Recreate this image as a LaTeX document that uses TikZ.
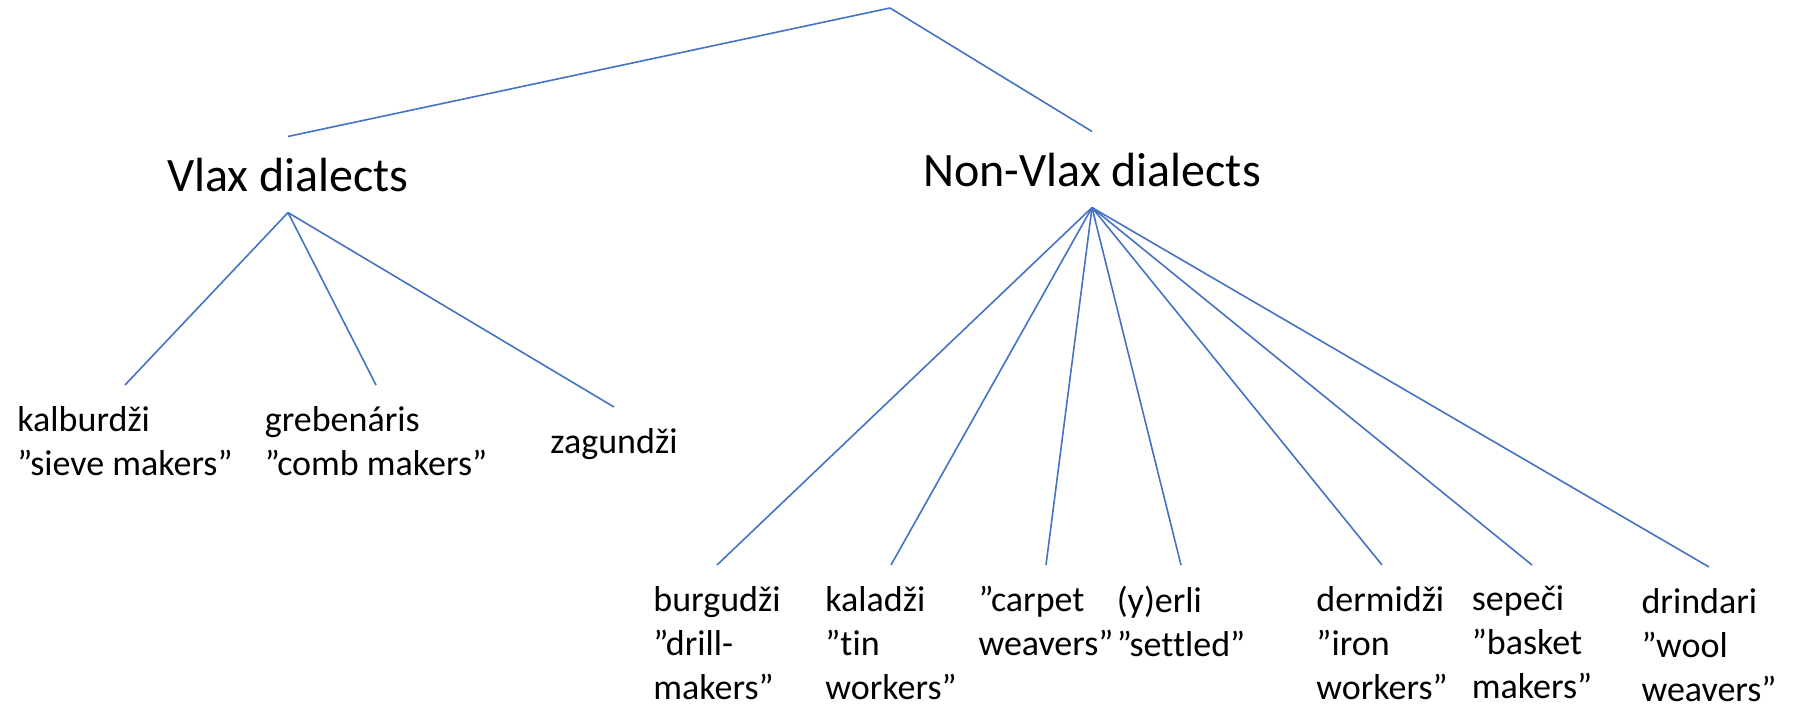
\documentclass[tikz,border=0pt]{standalone}
\usepackage{fontspec}
\setmainfont{Carlito}[Ligatures=NoCommon]
\definecolor{linkblue}{HTML}{4472C4}

\begin{document}
\begin{tikzpicture}[
    x=1pt,
    y=-1pt,
    group/.style={
        font=\fontsize{48}{58}\selectfont,
        inner xsep=4pt,
        inner ysep=21pt,
        anchor=base
    },
    dialect/.style={
        font=\fontsize{36}{44}\selectfont,
        align=left,
        inner xsep=2pt,
        inner ysep=21pt,
        anchor=north
    },
    link/.style={
        draw=linkblue,
        line width=1.6pt
    }
]

\useasboundingbox (0,0) rectangle (1793,704);

% root of the tree
\coordinate (root) at (890,8);

% two groups
\node[group] (vlax) at (288,191) {Vlax dialects};
\node[group] (nonvlax) at (1092,186) {Non-Vlax dialects};

% Vlax dialects
\node[dialect] (kalb) at (125,385) {kalburdži\\”sieve makers”};
\node[dialect] (greb) at (376,385) {grebenáris\\”comb makers”};
\node[dialect] (zag) at (614,407) {zagundži};

% Non-Vlax dialects
\node[dialect] (burg) at (717,565) {burgudži\\”drill-\\makers”};
\node[dialect] (kal) at (891,565) {kaladži\\”tin\\workers”};
\node[dialect] (carp) at (1046,565) {”carpet\\weavers”};
\node[dialect] (yerli) at (1181,565) {(y)erli\\”settled”};
\node[dialect] (derm) at (1382,565) {dermidži\\”iron\\workers”};
\node[dialect] (sep) at (1532,565) {sepeči\\”basket\\makers”};
\node[dialect] (drin) at (1709,567) {drindari\\”wool\\weavers”};

% top links
\draw[link] (root) -- (vlax.north);
\draw[link] (root) -- (nonvlax.north);

% Vlax links
\draw[link] (vlax.south) -- (kalb.north);
\draw[link] (vlax.south) -- (greb.north);
\draw[link] (vlax.south) -- (zag.north);

% Non-Vlax links
\draw[link] (nonvlax.south) -- (burg.north);
\draw[link] (nonvlax.south) -- (kal.north);
\draw[link] (nonvlax.south) -- (carp.north);
\draw[link] (nonvlax.south) -- (yerli.north);
\draw[link] (nonvlax.south) -- (derm.north);
\draw[link] (nonvlax.south) -- (sep.north);
\draw[link] (nonvlax.south) -- (drin.north);

\end{tikzpicture}
\end{document}
